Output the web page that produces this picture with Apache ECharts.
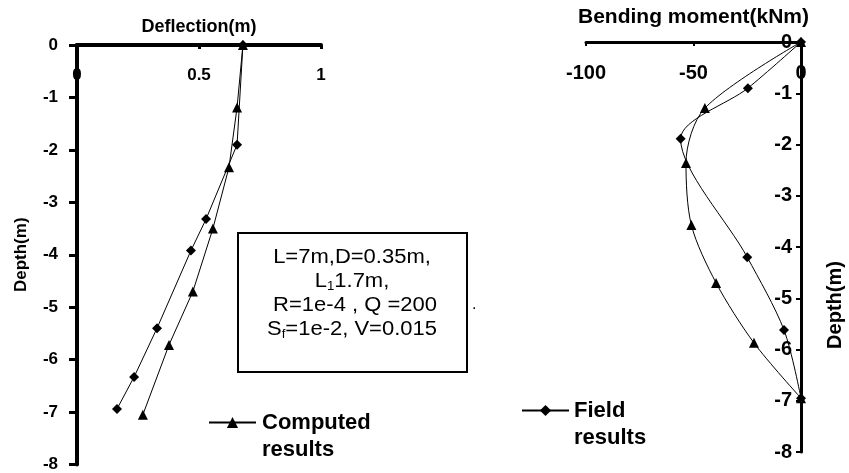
<!DOCTYPE html>
<html><head><meta charset="utf-8">
<script src="https://cdn.jsdelivr.net/npm/echarts@6/dist/echarts.min.js"></script>
<style>html,body{margin:0;padding:0;background:#fff}#c{width:849px;height:473px}</style>
</head><body><div id="c"></div>
<script>
// ---- data ----
const deflectionTicks = [0, 0.5, 1];
const depthTicks = [0, -1, -2, -3, -4, -5, -6, -7, -8];
const momentTicks = [-100, -50, 0];

const computedDeflDepth = [0, -1.19, -2.33, -3.5, -4.7, -5.72, -7.05];
const computedDefl      = [0.68, 0.656, 0.623, 0.557, 0.475, 0.377, 0.27];
const fieldDeflDepth    = [0, -1.9, -3.32, -3.92, -5.4, -6.33, -6.94];
const fieldDefl         = [0.68, 0.656, 0.529, 0.467, 0.328, 0.234, 0.164];

const computedMomDepth  = [0, -1.29, -2.36, -3.57, -4.7, -5.87, -6.95];
const computedMom       = [0, -44.7, -53.5, -51, -39.5, -21.9, 0];
const fieldMomDepth     = [0, -0.9, -1.89, -4.2, -5.62, -6.95];
const fieldMom          = [0, -24.7, -56, -25, -7.9, 0];

const seriesNames = ['Computed results', 'Field results'];
const boxLines = ['L=7m,D=0.35m,', 'L|1|1.7m,', ' R=1e-4 , Q =200', 'S|f|=1e-2, V=0.015'];

// ---- helpers ----
const zip = (xs, ys) => xs.map((x, i) => [x, ys[i]]);
const FONT = '"Liberation Sans", Arial, sans-serif';
const span = t => [Math.min(...t), Math.max(...t), Math.abs(t[1] - t[0])];

const [dxMin, dxMax, dxInt] = span(deflectionTicks);
const [dyMin, dyMax, dyInt] = span(depthTicks);
const [mMin, mMax, mInt] = span(momentTicks);

function richLine(s) {
  const p = s.split('|');
  if (p.length === 1) return '{n|' + s + '}';
  return '{n|' + p[0] + '}{s|' + p[1] + '}{n|' + p[2] + '}';
}

const chart = echarts.init(document.getElementById('c'), null, {renderer: 'canvas'});
const legendText = {fontFamily: FONT, fontWeight: 'bold', fontSize: 22, lineHeight: 27, color: '#000'};
const option = {
  backgroundColor: '#fff',
  animation: false,
  grid: [
    {left: 77, top: 45, width: 244, height: 422, containLabel: false},
    {left: 586, top: 42, width: 215, height: 410, containLabel: false}
  ],
  xAxis: [
    {
      gridIndex: 0, type: 'value', position: 'top', min: dxMin, max: dxMax, interval: dxInt,
      name: 'Deflection(m)', nameLocation: 'middle', nameGap: 9,
      nameTextStyle: {fontFamily: FONT, fontWeight: 'bold', fontSize: 18, color: '#000'},
      axisLine: {onZero: false, lineStyle: {color: '#000', width: 4}},
      axisTick: {inside: true, length: 4, lineStyle: {color: '#000', width: 3}},
      axisLabel: {inside: true, margin: 22, fontFamily: FONT, fontWeight: 'bold', fontSize: 17, color: '#000'},
      splitLine: {show: false}
    },
    {
      gridIndex: 1, type: 'value', position: 'top', min: mMin, max: mMax, interval: mInt,
      name: 'Bending moment(kNm)', nameLocation: 'middle', nameGap: 14,
      nameTextStyle: {fontFamily: FONT, fontWeight: 'bold', fontSize: 21, color: '#000'},
      axisLine: {onZero: false, lineStyle: {color: '#000', width: 3}},
      axisTick: {inside: true, length: 4, lineStyle: {color: '#000', width: 2}},
      axisLabel: {inside: true, margin: 21, fontFamily: FONT, fontWeight: 'bold', fontSize: 20, color: '#000'},
      splitLine: {show: false}
    }
  ],
  yAxis: [
    {
      gridIndex: 0, type: 'value', position: 'left', min: dyMin, max: dyMax, interval: dyInt,
      name: 'Depth(m)', nameLocation: 'middle', nameGap: 47, nameRotate: 90,
      nameTextStyle: {fontFamily: FONT, fontWeight: 'bold', fontSize: 17, color: '#000'},
      axisLine: {onZero: false, lineStyle: {color: '#000', width: 4}},
      axisTick: {inside: false, length: 8, lineStyle: {color: '#000', width: 3}},
      axisLabel: {margin: 19, fontFamily: FONT, fontWeight: 'bold', fontSize: 17, color: '#000'},
      splitLine: {show: false}
    },
    {
      gridIndex: 1, type: 'value', position: 'right', min: dyMin, max: dyMax, interval: dyInt,
      name: 'Depth(m)', nameLocation: 'middle', nameGap: 24, nameRotate: 90,
      nameTextStyle: {fontFamily: FONT, fontWeight: 'bold', fontSize: 20, color: '#000', padding: [0, 116, 0, 0]},
      axisLine: {onZero: false, lineStyle: {color: '#000', width: 3}},
      axisTick: {inside: true, length: 5, lineStyle: {color: '#000', width: 2}},
      axisLabel: {inside: true, margin: 9, fontFamily: FONT, fontWeight: 'bold', fontSize: 20, color: '#000'},
      splitLine: {show: false}
    }
  ],
  legend: [
    {
      data: [seriesNames[0]], left: 208, top: 382, padding: 0, selectedMode: false,
      itemWidth: 47, itemHeight: 14, itemGap: 0,
      formatter: n => '\n' + n.replace(' ', '\n'),
      textStyle: Object.assign({}, legendText, {padding: [0, 0, 0, 1]})
    },
    {
      data: [seriesNames[1]], left: 521, top: 370, padding: 0, selectedMode: false,
      itemWidth: 47, itemHeight: 14, itemGap: 0,
      formatter: n => '\n' + n.replace(' ', '\n'),
      textStyle: Object.assign({}, legendText, {padding: [0, 0, 0, 0]})
    }
  ],
  series: [
    {
      name: seriesNames[0], type: 'line', xAxisIndex: 0, yAxisIndex: 0,
      data: zip(computedDefl, computedDeflDepth),
      symbol: 'triangle', symbolSize: 10, itemStyle: {color: '#000'},
      lineStyle: {color: '#000', width: 1}
    },
    {
      name: seriesNames[1], type: 'line', xAxisIndex: 0, yAxisIndex: 0,
      data: zip(fieldDefl, fieldDeflDepth),
      symbol: 'diamond', symbolSize: 10, itemStyle: {color: '#000'},
      lineStyle: {color: '#000', width: 1}
    },
    {
      name: seriesNames[0], type: 'line', xAxisIndex: 1, yAxisIndex: 1,
      data: zip(computedMom, computedMomDepth), smooth: 0.3,
      symbol: 'triangle', symbolSize: 10, itemStyle: {color: '#000'},
      lineStyle: {color: '#000', width: 1}
    },
    {
      name: seriesNames[1], type: 'line', xAxisIndex: 1, yAxisIndex: 1,
      data: zip(fieldMom, fieldMomDepth), smooth: 0.3,
      symbol: 'diamond', symbolSize: 10, itemStyle: {color: '#000'},
      lineStyle: {color: '#000', width: 1}
    }
  ],
  graphic: [
    {
      type: 'rect', shape: {x: 238, y: 233, width: 229, height: 139},
      style: {fill: '#fff', stroke: '#000', lineWidth: 2}, z: 10
    },
    {
      type: 'text', x: 352, y: 245, z: 11, scaleX: 1.1,
      style: {
        text: boxLines.map(richLine).join('\n'),
        align: 'center', verticalAlign: 'top',
        fill: '#000',
        rich: {
          n: {fontFamily: FONT, fontSize: 20, lineHeight: 24, fill: '#000'},
          s: {fontFamily: FONT, fontSize: 12, lineHeight: 24, fill: '#000', verticalAlign: 'bottom'}
        }
      }
    },
    {
      type: 'text', x: 472, y: 297, z: 11,
      style: {text: '.', fontFamily: FONT, fontSize: 16, fill: '#000'}
    }
  ]
};
chart.setOption(option);
</script></body></html>
